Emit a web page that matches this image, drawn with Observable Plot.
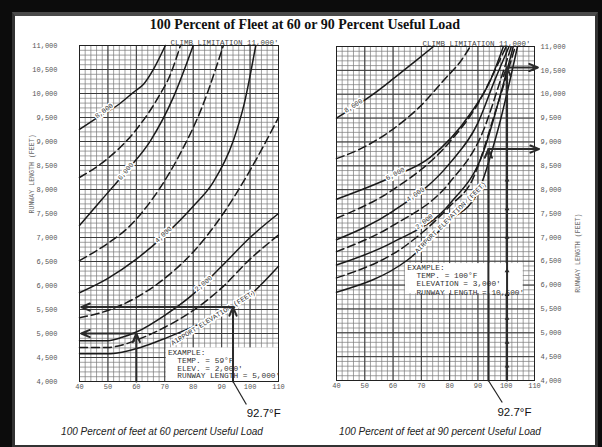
<!DOCTYPE html>
<html><head><meta charset="utf-8">
<script src="https://cdn.jsdelivr.net/npm/d3@7"></script>
<script src="https://cdn.jsdelivr.net/npm/@observablehq/plot@0.6"></script>
<style>
html,body{margin:0;padding:0;}
body{width:602px;height:447px;background:#0c0c0c;position:relative;overflow:hidden;}
#frame{position:absolute;left:12px;top:12px;width:580px;height:429px;background:#fff;border:3px solid #333;border-top:4px solid #4a4a4a;}
#title{position:absolute;left:4px;width:602px;top:16px;line-height:18px;text-align:center;font-family:"Liberation Serif","DejaVu Serif",serif;font-weight:bold;font-size:14px;color:#111;}
.cap{position:absolute;top:425px;width:300px;line-height:14px;text-align:center;font-family:"Liberation Sans",Arial,sans-serif;font-style:italic;font-size:10px;color:#222;}
#left,#right{position:absolute;top:0;}
#left{left:0;} #right{left:300px;}
</style></head>
<body>
<div id="frame"></div>
<div id="title">100 Percent of Fleet at 60 or 90 Percent Useful Load</div>
<div id="left"></div><div id="right"></div>
<div class="cap" style="left:12px">100 Percent of feet at 60 percent Useful Load</div>
<div class="cap" style="left:290px">100 Percent of feet at 90 percent Useful Load</div>
<script>
// ---- axis ticks ----
const xTicks = [40, 50, 60, 70, 80, 90, 100, 110];
const yTicks = [4000, 4500, 5000, 5500, 6000, 6500, 7000, 7500, 8000, 8500, 9000, 9500, 10000, 10500, 11000];
const elevations = [0, 1000, 2000, 3000, 4000, 5000, 6000, 7000, 8000];

// ---- 60 percent useful load: [temperature °F, runway length ft] per airport elevation ----
const l60_0ft    = [[40,4580],[51,4580],[61.5,4710],[71,4920],[82.6,5210],[94.2,5540],[100,5800],[110,6400]];
const l60_1000ft = [[40,4710],[50,4710],[55,4760],[60,4860],[70,5130],[80,5480],[90,5950],[100,6550],[110,7050]];
const l60_2000ft = [[40,4850],[50,4850],[55,4920],[60,5030],[70,5380],[80,5820],[90,6400],[100,7000],[110,7500]];
const l60_3000ft = [[40,5330],[50,5480],[60,5750],[70,6150],[80,6700],[90,7450],[100,8400],[110,9500]];
const l60_4000ft = [[40,5850],[50,6150],[60,6550],[70,7050],[80,7650],[87,8150],[94,9000],[98,9800],[102,11000]];
const l60_5000ft = [[40,6520],[50,6880],[57,7200],[65,7750],[75,8700],[83,9700],[90.6,11000]];
const l60_6000ft = [[40,7250],[48,7800],[56,8350],[65,9020],[73,9920],[80,11000]];
const l60_7000ft = [[40,8250],[50,8650],[60,9250],[68,9950],[72,10400],[75.5,11000]];
const l60_8000ft = [[40,9250],[47.4,9540],[53.3,9750],[59.1,10030],[62.6,10200],[66.1,10515],[70.2,11000]];

// ---- 90 percent useful load ----
const l90_0ft    = [[40,5850],[65,6520],[80,7350],[89.8,7920],[97,9240],[104,11000]];
const l90_1000ft = [[40,6150],[65,6850],[80,7650],[88,8200],[96,9600],[103.2,11000]];
const l90_2000ft = [[40,6420],[60,6900],[80,7700],[92,8800],[98,10000],[102.5,11000]];
const l90_3000ft = [[40,6700],[60,7250],[80,8150],[92,9250],[98,10300],[101.8,11000]];
const l90_4000ft = [[40,6950],[60,7550],[80,8550],[90,9400],[96,10300],[101,11000]];
const l90_5000ft = [[40,7400],[60,8000],[80,9000],[90,9800],[96,10500],[100,11000]];
const l90_6000ft = [[40,7800],[59,8250],[73,8670],[87.3,9590],[94.4,10290],[99,11000]];
const l90_7000ft = [[40,8650],[50,8900],[60,9270],[70,9770],[78,10300],[84,10700],[87.3,11000]];
const l90_8000ft = [[40,9500],[53,10000],[60,10320],[68,10700],[74.3,11000]];

// ---- curve labels: [temperature, length, text, rotation] ----
const labels60 = [[48.6,9640,"8,000",-36],[56.2,8380,"6,000",-50],[69.5,7060,"4,000",-43],[83.6,6040,"2,000",-40],[87,5330,"AIRPORT ELEVATION (FEET)",-32]];
const labels90 = [[46,9760,"8,000",-33],[60.8,8330,"6,000",-28],[67.9,7900,"4,000",-35],[71,7330,"2,000",-38],[80.3,7420,"AIRPORT ELEVATION (FEET)",-45]];

// ---- worked examples: arrows [t1, l1, t2, l2] ----
const arrows60 = [[60,4000,60,5000],[60,5000,40.6,5000],[94,4000,94,5550],[94,5550,40.6,5550]];
const arrows90 = [[93.7,4000,93.7,8850],[93.7,8850,111.6,8850],[100.3,4000,100.3,10560],[100.3,10560,111.2,10560]];
const ticks100 = [4300, 4800, 5300, 5800, 6300, 7000, 7600, 8200];
const example60 = ["EXAMPLE:", "\u00a0\u00a0TEMP. = 59°F", "\u00a0\u00a0ELEV. = 2,000'", "\u00a0\u00a0RUNWAY LENGTH = 5,000'"];
const example90 = ["EXAMPLE:", "\u00a0\u00a0TEMP. = 100°F", "\u00a0\u00a0ELEVATION = 3,000'", "\u00a0\u00a0RUNWAY LENGTH = 10,500'"];
const box60 = [70.5, 110, 4000, 4700];
const box90 = [64.4, 106, 5820, 6450];
const pointer60 = [94, 4000, 98.7, 3520];
const pointer90 = [93.7, 4000, 98.6, 3540];
const tempNote = "92.7°F";
const tempNoteT = [104.8, 102.9];
const climbNote = "CLIMB LIMITATION 11,000'";
const yTitle = "RUNWAY LENGTH (FEET)";

const minorX = d3.range(40, 111, 2);
const minorY = d3.range(4000, 11001, 100);

function table(curves) {
  const rows = [];
  curves.forEach((c, i) => c.forEach(([t, l]) => rows.push({elev: elevations[i], t, l})));
  return rows;
}

const mono = "Liberation Mono, DejaVu Sans Mono, monospace";

function panel(o) {
  const data = table(o.curves);
  const solid = data.filter(d => (d.elev / 1000) % 2 === 0);
  const dashed = data.filter(d => (d.elev / 1000) % 2 === 1);
  const lab = o.labels.map(([t, l, text, r]) => ({t, l, text, r}));
  const arr = o.arrows.map(([t1, l1, t2, l2]) => ({t1, l1, t2, l2}));
  return Plot.plot({
    width: o.width, height: 447,
    marginLeft: o.ml, marginRight: o.mr, marginTop: o.mt, marginBottom: o.mb,
    x: {domain: [40, 110], ticks: xTicks, tickSize: 0, tickPadding: 3, label: null},
    y: {domain: [4000, 11000], ticks: yTicks, tickSize: 0, tickPadding: o.yPad, tickFormat: d3.format(","), label: null, axis: o.yAxis},
    style: {background: "transparent", fontFamily: mono, fontSize: "7px", color: "#555", overflow: "visible"},
    marks: [
      Plot.ruleX(minorX, {stroke: "#7a7a7a", strokeWidth: 0.7}),
      Plot.ruleY(minorY, {stroke: "#7a7a7a", strokeWidth: 0.7}),
      Plot.ruleX(xTicks, {stroke: "#3a3a3a", strokeWidth: 1}),
      Plot.ruleY(yTicks, {stroke: "#3a3a3a", strokeWidth: 1}),
      Plot.rect([o.box], {x1: d => d[0], x2: d => d[1], y1: d => d[2], y2: d => d[3], fill: "white"}),
      Plot.frame({stroke: "#222", strokeWidth: 1}),
      Plot.line(solid, {x: "t", y: "l", z: "elev", curve: "monotone-x", stroke: "#1a1a1a", strokeWidth: 1.5}),
      Plot.line(dashed, {x: "t", y: "l", z: "elev", curve: "monotone-x", stroke: "#1a1a1a", strokeWidth: 1.5, strokeDasharray: "8,4"}),
      Plot.text(lab, {x: "t", y: "l", text: "text", rotate: "r", fill: "#333", stroke: "white", strokeWidth: 3, fontSize: 6.8, fontFamily: mono}),
      Plot.text([o.example.join("\n")], {x: o.box[0] + 0.6, y: o.box[3], dy: o.exDy, lineAnchor: "top", lineHeight: o.exLine, textAnchor: "start", fill: "#333", fontSize: 7.8, fontFamily: mono}),
      Plot.arrow(arr, {x1: "t1", y1: "l1", x2: "t2", y2: "l2", stroke: "#2a2a2a", strokeWidth: 2, headLength: 7, headAngle: 45}),
      ...(o.ticks ? [Plot.dot(o.ticks, {x: 100.3, y: d => d, symbol: "triangle", r: 1.8, fill: "#2a2a2a", stroke: "none"})] : []),
      Plot.link([o.pointer], {x1: d => d[0], y1: d => d[1], x2: d => d[2], y2: d => d[3], stroke: "#222", strokeWidth: 1.2}),
      Plot.text([tempNote], {x: o.noteT, y: 4000, dy: 32, fill: "#111", fontSize: 11.5, fontFamily: "Liberation Sans, Arial, sans-serif"}),
      Plot.text([climbNote], {frameAnchor: "top-right", dx: o.climbDx, dy: -6, textAnchor: "end", fill: "#444", fontSize: 7.5, fontFamily: mono}),
      Plot.text([yTitle], {frameAnchor: o.titleAnchor, dx: o.titleDx, rotate: -90, fill: "#666", fontSize: 6.6, fontFamily: mono})
    ]
  });
}

document.getElementById("left").append(panel({
  width: 300, ml: 79, mr: 22, mt: 45, mb: 66, yPad: 22, yAxis: "left",
  curves: [l60_0ft, l60_1000ft, l60_2000ft, l60_3000ft, l60_4000ft, l60_5000ft, l60_6000ft, l60_7000ft, l60_8000ft],
  labels: labels60, arrows: arrows60, example: example60, exLine: 0.98, exDy: 2, box: box60,
  pointer: pointer60, noteT: tempNoteT[0], climbDx: 0, titleAnchor: "left", titleDx: -48
}));
document.getElementById("right").append(panel({
  width: 302, ml: 36, mr: 68, mt: 46, mb: 67, yPad: 6, yAxis: "right",
  curves: [l90_0ft, l90_1000ft, l90_2000ft, l90_3000ft, l90_4000ft, l90_5000ft, l90_6000ft, l90_7000ft, l90_8000ft],
  labels: labels90, arrows: arrows90, example: example90, exLine: 1.07, exDy: 0, box: box90, ticks: ticks100,
  pointer: pointer90, noteT: tempNoteT[1], climbDx: -4, titleAnchor: "right", titleDx: 43
}));
</script>
</body></html>
